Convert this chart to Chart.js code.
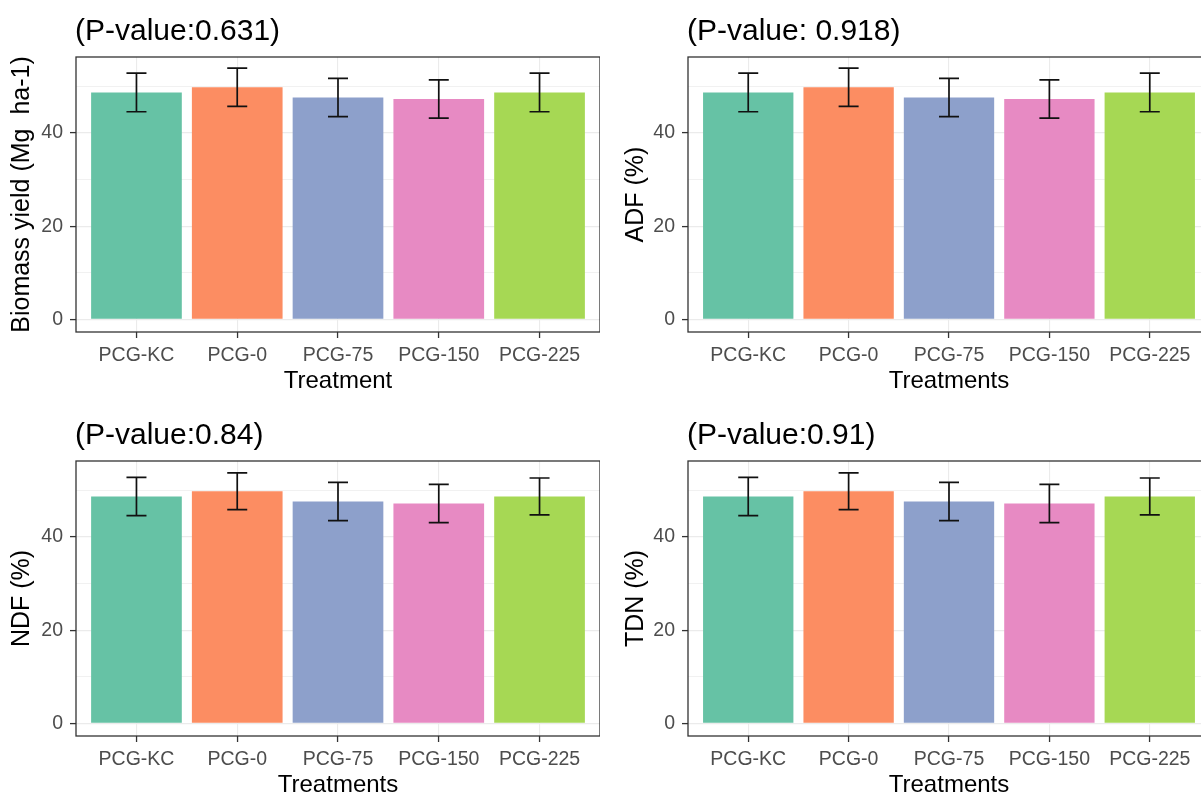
<!DOCTYPE html>
<html>
<head>
<meta charset="utf-8">
<script src="https://cdn.jsdelivr.net/npm/chart.js@4.4.1/dist/chart.umd.min.js"></script>
<style>
  html, body { margin: 0; padding: 0; background: #fff; overflow: hidden; }
  body { width: 1201px; height: 796px; position: relative; }
  canvas { position: absolute; }
</style>
</head>
<body>
<canvas id="c1" width="600" height="400" style="left:0;top:0"></canvas>
<canvas id="c2" width="610" height="400" style="left:600px;top:0"></canvas>
<canvas id="c3" width="600" height="400" style="left:0;top:404px"></canvas>
<canvas id="c4" width="610" height="400" style="left:600px;top:404px"></canvas>
<script>
// data
const treatments = ['PCG-KC', 'PCG-0', 'PCG-75', 'PCG-150', 'PCG-225'];
const yTicks = [0, 10, 20, 30, 40, 50];

const biomass = [48.7, 49.8, 47.6, 47.3, 48.7];
const biomassErr = [4.15, 4.1, 4.1, 4.1, 4.15];

const adf = [48.7, 49.8, 47.6, 47.3, 48.7];
const adfErr = [4.15, 4.1, 4.1, 4.1, 4.15];

const ndf = [48.7, 49.8, 47.6, 47.2, 48.7];
const ndfErr = [4.1, 3.95, 4.1, 4.1, 3.95];

const tdn = [48.7, 49.8, 47.6, 47.2, 48.7];
const tdnErr = [4.1, 3.95, 4.1, 4.1, 3.95];

const set2 = ['#66C2A5', '#FC8D62', '#8DA0CB', '#E78AC3', '#A6D854'];
const FONT = "'Liberation Sans', Arial, sans-serif";

// title left-aligned on the panel
const panelTitle = {
  id: 'panelTitle',
  afterDraw(chart, args, opts) {
    const c = chart.ctx;
    c.save();
    c.font = '30px ' + FONT;
    c.fillStyle = '#000';
    c.textBaseline = 'alphabetic';
    c.fillText(opts.text, chart.chartArea.left - 1, 40);
    c.restore();
  }
};

// error bars + panel border
const errorBars = {
  id: 'errorBars',
  afterDatasetsDraw(chart, args, opts) {
    const c = chart.ctx;
    const meta = chart.getDatasetMeta(0);
    const ys = chart.scales.y;
    const ds = chart.data.datasets[0];
    c.save();
    c.strokeStyle = '#111111';
    c.lineWidth = 1.7;
    meta.data.forEach((bar, i) => {
      const m = ds.data[i].y;
      const e = opts.err[i];
      const top = ys.getPixelForValue(m + e);
      const bot = ys.getPixelForValue(m - e);
      c.beginPath();
      c.moveTo(bar.x, top); c.lineTo(bar.x, bot);
      c.moveTo(bar.x - 10, top); c.lineTo(bar.x + 10, top);
      c.moveTo(bar.x - 10, bot); c.lineTo(bar.x + 10, bot);
      c.stroke();
    });
    c.restore();
  },
  afterDraw(chart) {
    const a = chart.chartArea;
    const c = chart.ctx;
    c.save();
    c.strokeStyle = '#333333';
    c.lineWidth = 1.3;
    c.strokeRect(a.left, a.top, a.right - a.left, a.bottom - a.top);
    c.restore();
  }
};

function makePanel(id, title, yTitle, xTitle, means, errs, leftW, yTitlePad) {
  new Chart(document.getElementById(id), {
    type: 'bar',
    data: {
      datasets: [{
        data: means.map((v, i) => ({ x: i + 1, y: v })),
        backgroundColor: set2,
        borderWidth: 0,
        barPercentage: 0.9,
        categoryPercentage: 1.0
      }]
    },
    plugins: [panelTitle, errorBars],
    options: {
      responsive: false,
      animation: false,
      layout: { padding: { top: 57, left: 0, right: 0, bottom: 0 } },
      plugins: {
        legend: { display: false },
        tooltip: { enabled: false },
        panelTitle: { text: title },
        errorBars: { err: errs }
      },
      scales: {
        x: {
          type: 'linear',
          min: 0.4,
          max: 5.6,
          offset: false,
          afterBuildTicks: s => { s.ticks = treatments.map((t, i) => ({ value: i + 1 })); },
          afterFit: s => { s.height = 68; },
          ticks: {
            callback: v => treatments[v - 1],
            color: '#4D4D4D',
            font: { family: FONT, size: 19.5 },
            padding: 6,
            maxRotation: 0,
            autoSkip: false
          },
          grid: { offset: false, color: '#EBEBEB', lineWidth: 1.1, tickLength: 6, tickColor: '#333333', tickWidth: 1.3 },
          border: { display: false },
          title: {
            display: true,
            text: xTitle,
            color: '#000',
            font: { family: FONT, size: 24 },
            padding: { top: 0, bottom: 4 }
          }
        },
        y: {
          min: -2.7,
          max: 56.3,
          afterBuildTicks: s => { s.ticks = yTicks.map(v => ({ value: v })); },
          afterFit: s => { s.width = leftW; },
          ticks: {
            callback: v => (v % 20 === 0 ? v : ''),
            color: '#4D4D4D',
            font: { family: FONT, size: 19.5 },
            padding: 7
          },
          grid: {
            color: '#EBEBEB',
            lineWidth: ctx => (ctx.tick && ctx.tick.value % 20 !== 0 ? 0.7 : 1.2),
            tickLength: 6,
            tickColor: ctx => (ctx.tick && ctx.tick.value % 20 !== 0 ? 'rgba(0,0,0,0)' : '#333333'),
            tickWidth: 1.3
          },
          border: { display: false },
          title: {
            display: true,
            text: yTitle,
            color: '#000',
            font: { family: FONT, size: 25 },
            padding: { top: yTitlePad, bottom: 0 }
          }
        }
      }
    }
  });
}

makePanel('c1', '(P-value:0.631)', 'Biomass yield (Mg  ha-1)', 'Treatment', biomass, biomassErr, 76, 7);
makePanel('c2', '(P-value: 0.918)', 'ADF (%)', 'Treatments', adf, adfErr, 88, 21);
makePanel('c3', '(P-value:0.84)', 'NDF (%)', 'Treatments', ndf, ndfErr, 76, 7);
makePanel('c4', '(P-value:0.91)', 'TDN (%)', 'Treatments', tdn, tdnErr, 88, 21);
</script>
</body>
</html>
